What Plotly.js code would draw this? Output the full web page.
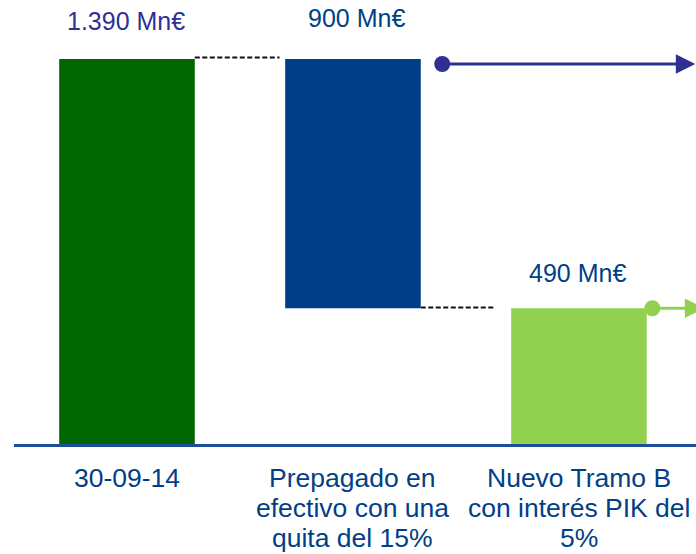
<!DOCTYPE html>
<html><head><meta charset="utf-8">
<script src="https://cdn.plot.ly/plotly-3.0.1.min.js"></script>
<style>body{margin:0;background:#fff}#c{width:696px;height:554px}</style>
</head><body><div id="c"></div>
<script>
const categories = [["30-09-14"], ["Prepagado en", "efectivo con una", "quita del 15%"], ["Nuevo Tramo B", "con interés PIK del", "5%"]];
const barValues = [1390, 900, 490];
const barBases = [0, 490, 0];
const valueLabels = ["1.390 Mn€", "900 Mn€", "490 Mn€"];
const arrowLevels = [1372, 490];
const arrowStartX = [1.395, 2.325];
const arrowEndX = [2.515, 2.555];
const connectorX = [[0.3, 0.675], [1.3, 1.63]];
const connectorY = [1395, 493];

const FONT = "'Liberation Sans', Arial, sans-serif";
const barColors = ["#006600", "#003F87", "#92D050"];
const arrowColors = ["#2E3192", "#92D050"];
const labelColors = ["#2E3192", "#003F87", "#003F87"];

const traces = [{
  type: "bar", x: [0, 1, 2], y: barValues, base: barBases, width: 0.6,
  marker: {color: barColors, line: {width: 0}}, hoverinfo: "skip"
}];
connectorX.forEach((xs, i) => traces.push({
  type: "scatter", mode: "lines", x: xs, y: [connectorY[i], connectorY[i]],
  line: {color: "#111", width: 2, dash: "5px,2.5px"}, hoverinfo: "skip"
}));

const annotations = [];
const valShiftX = [-1, 4, -1];
const valShiftY = [38, 41, 35];
valueLabels.forEach((t, i) => annotations.push({
  x: i, y: barBases[i] + barValues[i], xref: "x", yref: "y", text: t, showarrow: false,
  yanchor: "middle", yshift: valShiftY[i], xshift: valShiftX[i],
  font: {family: FONT, size: 25, color: labelColors[i]}
}));
categories.forEach((lines, i) => lines.forEach((t, j) => annotations.push({
  x: i, y: 0, xref: "x", yref: "y", text: t, showarrow: false,
  yanchor: "middle", yshift: -33.5 - 30 * j,
  font: {family: FONT, size: 26.5, color: "#003F87"}
})));
arrowLevels.forEach((lv, i) => annotations.push({
  x: arrowEndX[i], y: lv, ax: arrowStartX[i], ay: lv, xref: "x", yref: "y", axref: "x", ayref: "y",
  text: "", showarrow: true, arrowhead: 2, arrowsize: 1.3, arrowwidth: 3, arrowcolor: arrowColors[i],
  standoff: 0, startstandoff: 0
}));
traces.push({
  type: "scatter", mode: "markers", x: arrowStartX, y: arrowLevels, cliponaxis: false,
  marker: {size: 16, color: arrowColors, opacity: 1, line: {width: 0}}, hoverinfo: "skip"
});

const layout = {
  width: 696, height: 554,
  margin: {l: 14, r: 0, t: 0, b: 110},
  paper_bgcolor: "#fff", plot_bgcolor: "#fff",
  showlegend: false,
  xaxis: {
    range: [-0.5, 2.518], tickvals: [0, 1, 2], showticklabels: false,
    showgrid: false, zeroline: false, showline: true, linecolor: "#1F4E99", linewidth: 3,
    ticks: "", fixedrange: true
  },
  yaxis: {range: [0, 1603], visible: false, fixedrange: true},
  annotations: annotations
};
Plotly.newPlot("c", traces, layout, {staticPlot: true});
</script></body></html>
